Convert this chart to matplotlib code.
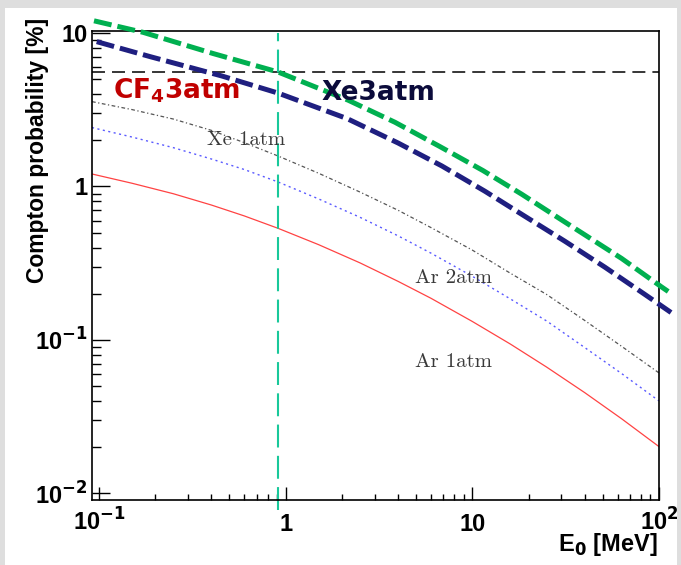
import matplotlib
matplotlib.use("Agg")
import matplotlib.pyplot as plt
from matplotlib.patches import Rectangle
from matplotlib.ticker import FixedLocator, FixedFormatter, LogLocator, NullFormatter

plt.rcParams['font.family'] = 'Liberation Sans'
plt.rcParams['mathtext.fontset'] = 'dejavusans'

# photon energy E0 [MeV] vs Compton probability [%]
e_cf4_3 = [0.094, 0.172, 0.408, 0.91, 2.16, 3.85, 6.70, 11.4, 18.4, 30.1, 63.0, 103, 112]
p_cf4_3 = [12.0, 10.1, 7.35, 5.57, 3.65, 2.62, 1.82, 1.27, 0.89, 0.605, 0.34, 0.222, 0.207]

e_xe_3 = [0.0972, 0.188, 0.454, 0.91, 2.13, 4.00, 6.87, 11.7, 19.1, 31.3, 51.3, 84.0, 116]
p_xe_3 = [8.78, 7.01, 5.25, 4.06, 2.77, 1.92, 1.36, 0.93, 0.64, 0.44, 0.298, 0.198, 0.151]

e_thin = [0.0917, 0.15, 0.25, 0.4, 0.6, 0.91, 1.5, 2.5, 4, 6, 10, 16, 25, 40, 63, 100]
p_xe_1 = [3.57, 3.17, 2.75, 2.32, 1.93, 1.58, 1.22, 0.92, 0.70, 0.54, 0.385, 0.272, 0.198,
          0.134, 0.091, 0.061]
p_ar_2 = [2.42, 2.10, 1.79, 1.51, 1.29, 1.07, 0.83, 0.63, 0.477, 0.368, 0.260, 0.185, 0.133,
          0.0893, 0.0605, 0.0401]
p_ar_1 = [1.206, 1.05, 0.897, 0.757, 0.643, 0.534, 0.418, 0.318, 0.241, 0.187, 0.132, 0.094,
          0.0666, 0.0454, 0.0307, 0.0202]

e_cut = 0.913      # vertical marker
p_ref = 5.6        # horizontal reference level

x_ticks = [0.1, 1, 10, 100]
x_labels = [r'10$^{\mathbf{-1}}$', '1', '10', r'10$^{\mathbf{2}}$']
y_ticks = [0.01, 0.1, 1, 10]
y_labels = [r'10$^{\mathbf{-2}}$', r'10$^{\mathbf{-1}}$', '1', '10']

W, H = 681, 565
fig = plt.figure(figsize=(W / 100, H / 100), dpi=100, facecolor='#dedede')
fig.patches.append(Rectangle((5 / W, 0), 672 / W, 557 / H, transform=fig.transFigure,
                             facecolor='white', edgecolor='none', zorder=-10))
ax = fig.add_axes([92 / W, 65 / H, 567 / W, 469 / H])
ax.set_zorder(1)
ax.set_xscale('log')
ax.set_yscale('log')
ax.set_xlim(0.0917, 100)
ax.set_ylim(0.00907, 10.3)

# thin curves
ax.plot(e_thin, p_ar_1, color='#ff4343', lw=0.9)
ax.plot(e_thin, p_ar_2, color='#5a5aff', lw=1.0, linestyle=(0, (1.5, 2.5)))
ax.plot(e_thin, p_xe_1, color='#555555', lw=0.9, linestyle=(0, (3, 2, 1, 2)))

# reference lines
ax.axhline(p_ref, color='black', lw=1.1, dashes=(8.5, 4.6))
ax.plot([e_cut, e_cut], [0.00782, 10], color='#19c89a', lw=1.5,
        dashes=(11, 4), clip_on=False)

# thick overlays
ax.plot(e_cf4_3, p_cf4_3, color='#00b050', lw=3.6, dashes=(3.6, 1.2),
        dash_capstyle='butt', clip_on=False, zorder=5)
ax.plot(e_xe_3, p_xe_3, color='#1f1f80', lw=3.6, dashes=(3.6, 1.2),
        dash_capstyle='butt', clip_on=False, zorder=5)

ax.text(0.119, 3.77, r'CF$_\mathbf{4}$3atm', color='#c00000', fontsize=19,
        fontweight='bold', family='DejaVu Sans', va='baseline')
ax.text(1.56, 3.66, 'Xe3atm', color='#0b0b3b', fontsize=19,
        fontweight='bold', family='DejaVu Sans', va='baseline', zorder=6)

ax.text(0.3775, 2.01, 'Xe 1atm', family='cmr10', fontsize=15, color='#3a3a3a', va='center')
ax.text(4.93, 0.2535, 'Ar 2atm', family='cmr10', fontsize=15, color='#3a3a3a', va='center')
ax.text(4.93, 0.0722, 'Ar 1atm', family='cmr10', fontsize=15, color='#3a3a3a', va='center')

# axes styling
ax.xaxis.set_major_locator(FixedLocator(x_ticks))
ax.xaxis.set_major_formatter(FixedFormatter(x_labels))
ax.yaxis.set_major_locator(FixedLocator(y_ticks))
ax.yaxis.set_major_formatter(FixedFormatter(y_labels))
for axis in (ax.xaxis, ax.yaxis):
    axis.set_minor_locator(LogLocator(base=10, subs=range(2, 10), numticks=20))
    axis.set_minor_formatter(NullFormatter())

ax.tick_params(which='both', direction='in', top=False, right=False, width=1.0,
               labelsize=17)
ax.tick_params(axis='x', which='major', length=9.4, pad=22)
ax.tick_params(axis='x', which='minor', length=4.3)
ax.tick_params(axis='y', which='major', length=12.7, pad=3)
ax.tick_params(axis='y', which='minor', length=6.5)
for lab in ax.get_xticklabels():
    lab.set_fontweight('bold')
    lab.set_verticalalignment('baseline')
for lab in ax.get_yticklabels():
    lab.set_fontweight('bold')
    lab.set_verticalalignment('center_baseline')
for sp in ax.spines.values():
    sp.set_linewidth(1.2)

fig.text(38 / W, 1 - 18 / H, 'Compton probability [%]', rotation=90,
         ha='center', va='top', fontsize=16.5, fontweight='bold')
fig.text(658 / W, 1 - 545 / H, r'E$_\mathbf{0}$ [MeV]', ha='right', va='center',
         fontsize=17, fontweight='bold')

fig.savefig('out.png', dpi=100, facecolor=fig.get_facecolor())
